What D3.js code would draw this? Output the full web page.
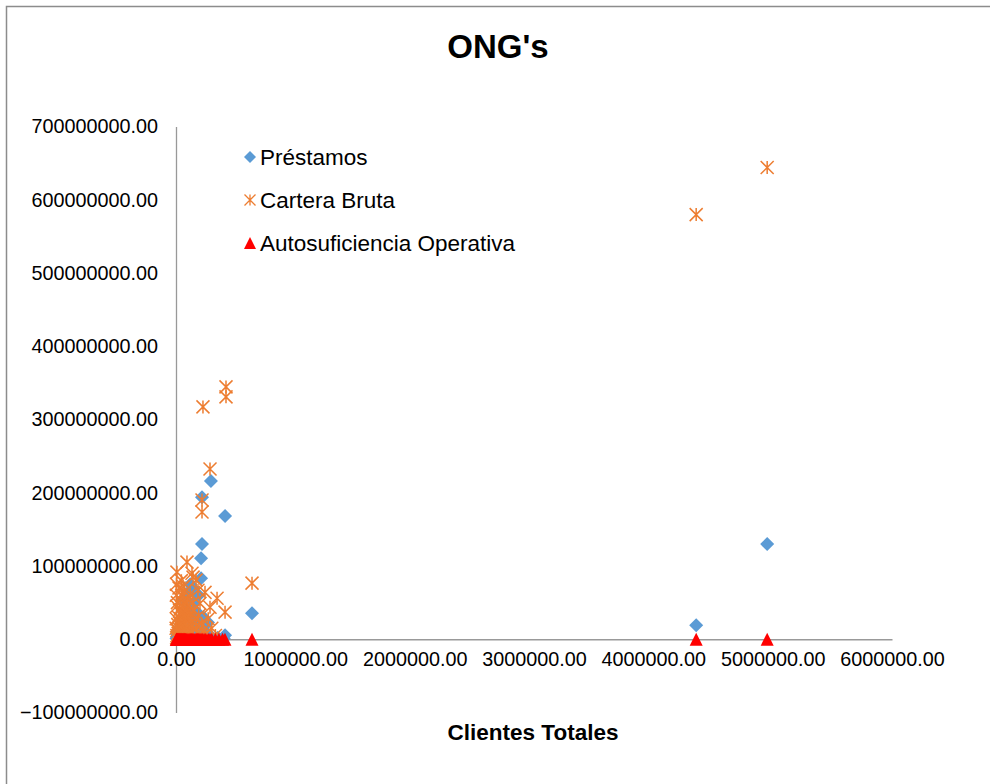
<!DOCTYPE html>
<html>
<head>
<meta charset="utf-8">
<script src="https://cdn.jsdelivr.net/npm/d3@7"></script>
<style>
	body { margin: 0; background: #fff; }
	text { font-family: "Liberation Sans", Arial, sans-serif; fill: #000; }
</style>
</head>
<body>
<div id="vis"></div>
<script>
const width = 990;
const height = 784;

const seriesNames = ["Préstamos", "Cartera Bruta", "Autosuficiencia Operativa"];
const xTicks = [0, 1000000, 2000000, 3000000, 4000000, 5000000, 6000000];
const yTicks = [-100000000, 0, 100000000, 200000000, 300000000, 400000000, 500000000, 600000000, 700000000];

// [clientes, valor]
const prestamos = [
	[4954000, 129900000], [4359000, 19100000], [293000, 216000000], [218000, 194000000],
	[411000, 168200000], [218000, 129900000], [210000, 110700000], [210000, 83400000],
	[637000, 35500000], [411000, 5500000], [268000, 23000000],
	[4000, 1000000], [8000, 3000000], [12000, 6000000], [16000, 2000000], [20000, 10000000],
	[25000, 4000000], [30000, 15000000], [35000, 8000000], [40000, 20000000], [45000, 5000000],
	[50000, 25000000], [55000, 12000000], [60000, 30000000], [65000, 7000000], [70000, 18000000],
	[75000, 35000000], [80000, 10000000], [85000, 22000000], [90000, 40000000], [95000, 14000000],
	[100000, 28000000], [110000, 8000000], [115000, 45000000], [120000, 18000000], [130000, 33000000],
	[140000, 12000000], [150000, 50000000], [160000, 25000000], [170000, 38000000], [180000, 15000000],
	[190000, 60000000], [200000, 20000000], [230000, 30000000], [250000, 10000000], [300000, 3000000],
	[350000, 2000000], [400000, 1000000], [60000, 55000000], [100000, 62000000], [120000, 75000000],
	[140000, 70000000]
];

const carteraBruta = [
	[4954000, 644000000], [4359000, 579700000], [419000, 344500000], [419000, 330900000],
	[226000, 317200000], [285000, 232400000], [218000, 190000000], [218000, 173600000],
	[637000, 76600000], [8000, 91600000], [92000, 105300000], [134000, 90200000],
	[168000, 80700000], [143000, 84800000], [344000, 56000000], [411000, 37000000],
	[285000, 43800000], [243000, 64000000], [201000, 49000000], [184000, 67000000],
	[5000, 2000000], [8000, 5000000], [10000, 12000000], [12000, 3000000], [15000, 20000000],
	[18000, 8000000], [20000, 30000000], [22000, 15000000], [25000, 4000000], [28000, 40000000],
	[30000, 22000000], [32000, 10000000], [35000, 55000000], [38000, 28000000], [40000, 6000000],
	[42000, 35000000], [45000, 18000000], [48000, 60000000], [50000, 45000000], [52000, 12000000],
	[55000, 25000000], [58000, 38000000], [60000, 8000000], [62000, 50000000], [65000, 30000000],
	[68000, 15000000], [70000, 42000000], [72000, 65000000], [75000, 22000000], [78000, 35000000],
	[80000, 10000000], [85000, 48000000], [88000, 28000000], [90000, 18000000], [95000, 55000000],
	[98000, 38000000], [100000, 12000000], [105000, 30000000], [110000, 45000000], [115000, 20000000],
	[120000, 62000000], [125000, 35000000], [130000, 8000000], [135000, 25000000], [140000, 50000000],
	[145000, 15000000], [150000, 40000000], [160000, 28000000], [170000, 18000000], [180000, 10000000],
	[190000, 32000000], [200000, 5000000], [215000, 22000000], [230000, 12000000], [250000, 8000000],
	[270000, 28000000], [300000, 15000000], [330000, 5000000], [3000, 60000000], [6000, 45000000],
	[2000, 28000000], [4000, 75000000], [1000, 15000000], [25000, 70000000], [45000, 80000000],
	[12000, 50000000], [60000, 72000000]
];

const autosuficiencia = [
	[2000, 1.1], [5000, 0.9], [8000, 1.2], [10000, 1.0], [14000, 1.3], [18000, 0.8], [22000, 1.1],
	[26000, 1.05], [30000, 0.95], [35000, 1.2], [40000, 1.1], [45000, 0.85], [50000, 1.15], [55000, 1.0],
	[60000, 1.25], [65000, 0.9], [70000, 1.1], [75000, 1.05], [80000, 1.2], [90000, 0.95], [100000, 1.1],
	[110000, 1.3], [120000, 1.0], [130000, 1.15], [140000, 0.9], [150000, 1.05], [160000, 1.2],
	[170000, 1.1], [180000, 0.95], [190000, 1.0], [200000, 1.25], [210000, 1.1], [220000, 1.05],
	[235000, 0.9], [250000, 1.15], [270000, 1.2], [285000, 1.0], [300000, 1.1], [330000, 0.95],
	[360000, 1.05], [390000, 1.1], [410000, 1.2], [637000, 1.1], [4359000, 1.3], [4954000, 1.2]
];

const colors = ["#5B9BD5", "#ED7D31", "#FF0000"];

const svg = d3.select("#vis").append("svg")
	.attr("width", width)
	.attr("height", height);

// chart area border
svg.append("rect")
	.attr("x", 6.5).attr("y", 6.5)
	.attr("width", width + 20).attr("height", height + 20)
	.attr("fill", "none")
	.attr("stroke", "#8c8c8c")
	.attr("stroke-width", 1.5);

const x = d3.scaleLinear().domain([0, 6000000]).range([176, 892]);
const y = d3.scaleLinear().domain([-100000000, 700000000]).range([712.5, 126.5]);

const fmt = d3.format(".2f");

const yAxis = svg.append("g")
	.attr("transform", `translate(${x(0)},0)`)
	.call(d3.axisLeft(y).tickValues(yTicks).tickFormat(fmt).tickSize(0).tickPadding(18));
yAxis.select(".domain").attr("stroke", "#999").attr("stroke-width", 1.3);
yAxis.selectAll("text").style("font-size", "19.8px").style("font-family", "Liberation Sans, Arial, sans-serif").attr("fill", "#000");

const xAxis = svg.append("g")
	.attr("transform", `translate(0,${y(0)})`)
	.call(d3.axisBottom(x).tickValues(xTicks).tickFormat(fmt).tickSize(0).tickPadding(13));
xAxis.select(".domain").attr("stroke", "#999").attr("stroke-width", 1.3);
xAxis.selectAll("text").style("font-size", "19.8px").style("font-family", "Liberation Sans, Arial, sans-serif").attr("fill", "#000");

// marker shapes
const diamond = s => `M0,${-s}L${s},0L0,${s}L${-s},0Z`;
const star = s => `M0,${-s}L0,${s}M${-s},${-s}L${s},${s}M${-s},${s}L${s},${-s}`;
const triangle = s => `M0,${-s}L${s},${s}L${-s},${s}Z`;

svg.append("g").selectAll("path")
	.data(prestamos)
	.join("path")
	.attr("transform", d => `translate(${x(d[0])},${y(d[1])})`)
	.attr("d", diamond(7))
	.attr("fill", colors[0]);

svg.append("g").selectAll("path")
	.data(carteraBruta)
	.join("path")
	.attr("transform", d => `translate(${x(d[0])},${y(d[1])})`)
	.attr("d", star(6.5))
	.attr("fill", "none")
	.attr("stroke", colors[1])
	.attr("stroke-width", 1.5);

svg.append("g").selectAll("path")
	.data(autosuficiencia)
	.join("path")
	.attr("transform", d => `translate(${x(d[0])},${y(d[1])})`)
	.attr("d", triangle(6.5))
	.attr("fill", colors[2]);

// title
svg.append("text")
	.attr("x", 498).attr("y", 58)
	.attr("text-anchor", "middle")
	.style("font-size", "33px")
	.style("font-weight", "bold")
	.text("ONG's");

svg.append("text")
	.attr("x", 533).attr("y", 740)
	.attr("text-anchor", "middle")
	.style("font-size", "22.5px")
	.style("font-weight", "bold")
	.text("Clientes Totales");

// legend
const legend = svg.append("g").attr("transform", "translate(250,157)");
const legendShapes = [diamond(6), star(5.5), triangle(6)];
seriesNames.forEach((name, i) => {
	const row = legend.append("g").attr("transform", `translate(0,${i * 43})`);
	const m = row.append("path").attr("d", legendShapes[i]);
	if (i === 1) m.attr("fill", "none").attr("stroke", colors[i]).attr("stroke-width", 1.3);
	else m.attr("fill", colors[i]);
	row.append("text")
		.attr("x", 10).attr("y", 8)
		.style("font-size", "22.5px")
		.text(name);
});
</script>
</body>
</html>
